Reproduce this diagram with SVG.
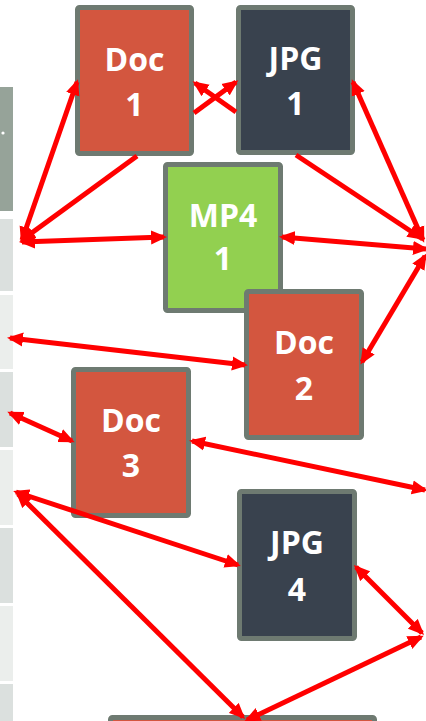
<svg xmlns="http://www.w3.org/2000/svg" width="426" height="721" viewBox="0 0 426 721">
<style>
.node{stroke:#6e7a71;stroke-width:5;stroke-linejoin:round}
.doc{fill:#d3563f}
.jpg{fill:#39424e}
.mp4{fill:#92d050}
.lbl{font-family:"Open Sans","DejaVu Sans",sans-serif;font-weight:bold;font-size:32px;fill:#ffffff;text-anchor:middle}
.c{stroke:#ff0000;stroke-width:5;fill:none;marker-start:url(#ah);marker-end:url(#ah)}
.c1{stroke:#ff0000;stroke-width:5;fill:none;marker-end:url(#ah)}
.dk{fill:#dbe0de}
.lt{fill:#ebeeec}
</style>
<defs>
<marker id="ah" markerUnits="userSpaceOnUse" markerWidth="17" markerHeight="15" refX="13" refY="7" orient="auto-start-reverse" viewBox="0 0 17 14">
<path d="M0,0 L16,7 L0,14 z" fill="#ff0000"/>
</marker>
</defs>
<rect width="426" height="721" fill="#ffffff"/>
<g id="strip">
<rect x="0" y="87" width="13" height="124" fill="#96a399"/>
<circle cx="3" cy="133" r="1.6" fill="#ffffff"/>
<rect class="dk" x="0" y="219" width="13" height="72"/>
<rect class="lt" x="0" y="295" width="13" height="74"/>
<rect class="dk" x="0" y="372" width="13" height="75"/>
<rect class="lt" x="0" y="450" width="13" height="75"/>
<rect class="dk" x="0" y="528" width="13" height="75"/>
<rect class="lt" x="0" y="606" width="13" height="75"/>
<rect class="dk" x="0" y="684" width="13" height="37"/>
</g>
<g id="doc1"><rect class="node doc" x="77.5" y="7.5" width="114" height="146" rx="2"/><text class="lbl" x="134.5" y="71">Doc</text><text class="lbl" x="134.5" y="116">1</text></g>
<g id="jpg1"><rect class="node jpg" x="238.5" y="7.5" width="114" height="145" rx="2"/><text class="lbl" x="295.5" y="70">JPG</text><text class="lbl" x="295.5" y="115">1</text></g>
<g id="mp41"><rect class="node mp4" x="165.5" y="164.5" width="115" height="146" rx="2"/><text class="lbl" x="223" y="227">MP4</text><text class="lbl" x="223" y="270">1</text></g>
<g id="doc2"><rect class="node doc" x="246.5" y="291.5" width="115" height="146" rx="2"/><text class="lbl" x="304" y="354">Doc</text><text class="lbl" x="304" y="400">2</text></g>
<g id="doc3"><rect class="node doc" x="73.5" y="369.5" width="115" height="146" rx="2"/><text class="lbl" x="131" y="432">Doc</text><text class="lbl" x="131" y="477">3</text></g>
<g id="jpg4"><rect class="node jpg" x="239.5" y="491.5" width="115" height="147" rx="2"/><text class="lbl" x="297" y="554">JPG</text><text class="lbl" x="297" y="601">4</text></g>
<g id="bottom"><rect class="node doc" x="110.5" y="717.5" width="264" height="30" rx="2"/></g>
<g id="connectors">
<line class="c" x1="22" y1="240" x2="77" y2="82"/>
<line class="c1" x1="137" y1="156" x2="22" y2="240"/>
<line class="c" x1="22" y1="242" x2="164" y2="237"/>
<line class="c1" x1="194" y1="113" x2="236" y2="82"/>
<line class="c1" x1="236" y1="112" x2="195" y2="83"/>
<line class="c" x1="353" y1="82" x2="423" y2="240"/>
<line class="c1" x1="296" y1="155" x2="421" y2="238"/>
<line class="c" x1="282" y1="237" x2="426" y2="249"/>
<line class="c" x1="425" y1="256" x2="362" y2="362"/>
<line class="c" x1="10" y1="338" x2="245" y2="365"/>
<line class="c" x1="10" y1="413" x2="72" y2="441"/>
<line class="c" x1="192" y1="441" x2="425" y2="490"/>
<line class="c" x1="16" y1="492" x2="238" y2="565"/>
<line class="c" x1="18" y1="494" x2="243" y2="717"/>
<line class="c" x1="356" y1="567" x2="422" y2="633"/>
<line class="c" x1="421" y1="637" x2="247" y2="720"/>
</g>
</svg>
